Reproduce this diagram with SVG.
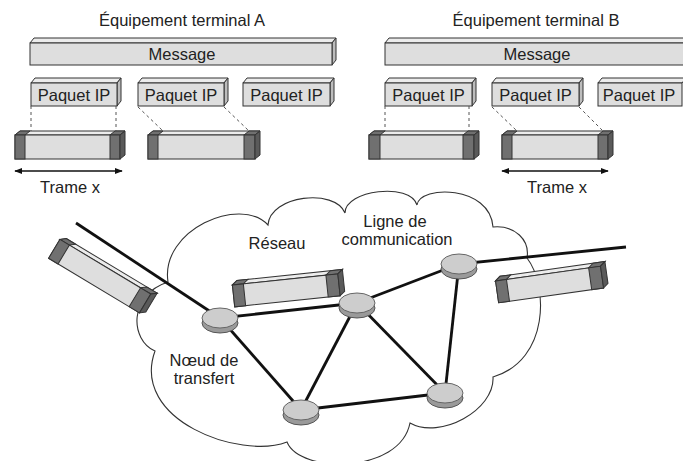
<svg xmlns="http://www.w3.org/2000/svg" width="683" height="461" viewBox="0 0 683 461">
<defs>
<style>
text{font-family:"Liberation Sans",Arial,sans-serif;font-size:16.5px;fill:#222;text-anchor:middle}
.fr{fill:#dedede;stroke:#333;stroke-width:1}
.tp{fill:#ececec;stroke:#333;stroke-width:1}
.sd{fill:#bdbdbd;stroke:#333;stroke-width:1}
.dk{fill:#707070;stroke:#333;stroke-width:1}
.dks{fill:#5a5a5a;stroke:#333;stroke-width:1}
.dash{stroke:#555;stroke-width:1;stroke-dasharray:3,3;fill:none}
.ln{stroke:#111;stroke-width:2.8;fill:none}
.rim{fill:#9a9a9a;stroke:#555;stroke-width:1}
.top{fill:#cdcdcd;stroke:#666;stroke-width:1}
</style>
<marker id="ah" viewBox="0 0 10 10" refX="9" refY="5" markerWidth="8" markerHeight="8" orient="auto-start-reverse" markerUnits="userSpaceOnUse">
<path d="M0,1 L10,5 L0,9 z" fill="#111"/>
</marker>
</defs>
<rect width="683" height="461" fill="#fff"/>

<!-- Terminal A -->
<g id="termA">
<text x="182" y="26">Équipement terminal A</text>
<g id="msgA">
<polygon class="tp" points="30,43 34,38 336,38 332,43"/>
<polygon class="sd" points="332,43 336,38 336,60 332,65"/>
<rect class="fr" x="30" y="43" width="302" height="22"/>
<text x="182" y="60">Message</text>
</g>
<g id="pA1">
<polygon class="tp" points="31,83 35,78 121,78 117,83"/>
<polygon class="sd" points="117,83 121,78 121,101 117,106"/>
<rect class="fr" x="31" y="83" width="86" height="23"/>
<text x="74" y="101">Paquet IP</text>
</g>
<g id="pA2">
<polygon class="tp" points="138,83 142,78 228,78 224,83"/>
<polygon class="sd" points="224,83 228,78 228,101 224,106"/>
<rect class="fr" x="138" y="83" width="86" height="23"/>
<text x="181" y="101">Paquet IP</text>
</g>
<g id="pA3">
<polygon class="tp" points="243,83 247,78 334,78 330,83"/>
<polygon class="sd" points="330,83 334,78 334,101 330,106"/>
<rect class="fr" x="243" y="83" width="87" height="23"/>
<text x="286.5" y="101">Paquet IP</text>
</g>
<g id="fA1">
<polygon class="tp" points="15,135 20,131 125,131 120,135"/>
<rect class="fr" x="15" y="135" width="105" height="24"/>
<polygon class="dk" points="15,135 20,131 30,131 25,135"/>
<rect class="dk" x="15" y="135" width="10" height="24"/>
<polygon class="dk" points="110,135 115,131 125,131 120,135"/>
<rect class="dk" x="110" y="135" width="10" height="24"/>
<polygon class="dks" points="120,135 125,131 125,155 120,159"/>
</g>
<g id="fA2">
<polygon class="tp" points="148,135 153,131 260,131 255,135"/>
<rect class="fr" x="148" y="135" width="107" height="24"/>
<polygon class="dk" points="148,135 153,131 163,131 158,135"/>
<rect class="dk" x="148" y="135" width="10" height="24"/>
<polygon class="dk" points="244,135 249,131 260,131 255,135"/>
<rect class="dk" x="244" y="135" width="11" height="24"/>
<polygon class="dks" points="255,135 260,131 260,155 255,159"/>
</g>
<g id="trameA">
<line x1="15" y1="171" x2="122" y2="171" stroke="#111" stroke-width="1.3" marker-start="url(#ah)" marker-end="url(#ah)"/>
<text x="70" y="193">Trame x</text>
</g>
</g>

<!-- Terminal B -->
<g id="termB">
<text x="536" y="26">Équipement terminal B</text>
<g id="msgB">
<polygon class="tp" points="385,43 389,38 690,38 686,43"/>
<rect class="fr" x="385" y="43" width="305" height="22"/>
<text x="537" y="60">Message</text>
</g>
<g id="pB1">
<polygon class="tp" points="385,83 389,78 476,78 472,83"/>
<polygon class="sd" points="472,83 476,78 476,101 472,106"/>
<rect class="fr" x="385" y="83" width="87" height="23"/>
<text x="428.5" y="101">Paquet IP</text>
</g>
<g id="pB2">
<polygon class="tp" points="492,83 496,78 583,78 579,83"/>
<polygon class="sd" points="579,83 583,78 583,101 579,106"/>
<rect class="fr" x="492" y="83" width="87" height="23"/>
<text x="535.5" y="101">Paquet IP</text>
</g>
<g id="pB3">
<polygon class="tp" points="598,83 602,78 686,78 682,83"/>
<rect class="fr" x="598" y="83" width="84" height="23"/>
<text x="639" y="101">Paquet IP</text>
</g>
<g id="fB1">
<polygon class="tp" points="369,135 374,131 479,131 474,135"/>
<rect class="fr" x="369" y="135" width="105" height="24"/>
<polygon class="dk" points="369,135 374,131 385,131 380,135"/>
<rect class="dk" x="369" y="135" width="11" height="24"/>
<polygon class="dk" points="463,135 468,131 479,131 474,135"/>
<rect class="dk" x="463" y="135" width="11" height="24"/>
<polygon class="dks" points="474,135 479,131 479,155 474,159"/>
</g>
<g id="fB2">
<polygon class="tp" points="502,135 507,131 613,131 608,135"/>
<rect class="fr" x="502" y="135" width="106" height="24"/>
<polygon class="dk" points="502,135 507,131 517,131 512,135"/>
<rect class="dk" x="502" y="135" width="10" height="24"/>
<polygon class="dk" points="598,135 603,131 613,131 608,135"/>
<rect class="dk" x="598" y="135" width="10" height="24"/>
<polygon class="dks" points="608,135 613,131 613,155 608,159"/>
</g>
<g id="trameB">
<line x1="502" y1="171" x2="608" y2="171" stroke="#111" stroke-width="1.3" marker-start="url(#ah)" marker-end="url(#ah)"/>
<text x="557" y="193">Trame x</text>
</g>
</g>

<g id="dashes">
<line class="dash" x1="31" y1="106" x2="31" y2="131"/>
<line class="dash" x1="116" y1="106" x2="116" y2="131"/>
<line class="dash" x1="138" y1="107" x2="163" y2="131"/>
<line class="dash" x1="224" y1="107" x2="249" y2="131"/>
<line class="dash" x1="385" y1="106" x2="385" y2="131"/>
<line class="dash" x1="469" y1="106" x2="469" y2="131"/>
<line class="dash" x1="492" y1="107" x2="517" y2="131"/>
<line class="dash" x1="579" y1="107" x2="603" y2="131"/>
</g>

<!-- Network cloud -->
<g id="cloud">
<path d="M155,351 C130,340 128,295 168,282 C160,230 240,195 268,225 C270,195 335,188 345,213 C345,190 410,182 417,205 C420,185 490,185 493,227 C515,225 530,240 527,258 C548,285 550,360 493,377 C495,410 440,440 410,423 C400,474 300,474 287,442 C240,460 130,420 155,351 Z" fill="#fff" stroke="#333" stroke-width="1.1"/>
</g>

<g id="connectors">
<line class="ln" x1="76" y1="223" x2="220" y2="318"/>
<line class="ln" x1="220" y1="318" x2="357" y2="303"/>
<line class="ln" x1="220" y1="318" x2="301" y2="410"/>
<line class="ln" x1="357" y1="303" x2="301" y2="410"/>
<line class="ln" x1="357" y1="303" x2="459" y2="264"/>
<line class="ln" x1="357" y1="303" x2="445" y2="393"/>
<line class="ln" x1="459" y1="264" x2="445" y2="393"/>
<line class="ln" x1="301" y1="410" x2="445" y2="393"/>
<line class="ln" x1="459" y1="264" x2="626" y2="247"/>
</g>

<g id="frameL" transform="translate(62,236) rotate(31)">
<polygon class="tp" points="0,4 5,0 111,0 106,4"/>
<rect class="fr" x="0" y="4" width="106" height="22"/>
<polygon class="dk" points="0,4 5,0 16,0 11,4"/>
<rect class="dk" x="0" y="4" width="11" height="22"/>
<polygon class="dk" points="94,4 99,0 111,0 106,4"/>
<rect class="dk" x="94" y="4" width="12" height="22"/>
<polygon class="dks" points="106,4 111,0 111,22 106,26"/>
</g>
<g id="frameM" transform="translate(232,281) rotate(-6)">
<polygon class="tp" points="0,4 5,0 111,0 106,4"/>
<rect class="fr" x="0" y="4" width="106" height="22"/>
<polygon class="dk" points="0,4 5,0 16,0 11,4"/>
<rect class="dk" x="0" y="4" width="11" height="22"/>
<polygon class="dk" points="94,4 99,0 111,0 106,4"/>
<rect class="dk" x="94" y="4" width="12" height="22"/>
<polygon class="dks" points="106,4 111,0 111,22 106,26"/>
</g>
<g id="frameR" transform="translate(495,277) rotate(-8)">
<polygon class="tp" points="0,4 5,0 111,0 106,4"/>
<rect class="fr" x="0" y="4" width="106" height="22"/>
<polygon class="dk" points="0,4 5,0 16,0 11,4"/>
<rect class="dk" x="0" y="4" width="11" height="22"/>
<polygon class="dk" points="94,4 99,0 111,0 106,4"/>
<rect class="dk" x="94" y="4" width="12" height="22"/>
<polygon class="dks" points="106,4 111,0 111,22 106,26"/>
</g>

<g id="node1"><ellipse class="rim" cx="220" cy="323" rx="18" ry="10"/><ellipse class="top" cx="220" cy="318" rx="18" ry="10"/></g>
<g id="node2"><ellipse class="rim" cx="357" cy="308" rx="18" ry="10"/><ellipse class="top" cx="357" cy="303" rx="18" ry="10"/></g>
<g id="node3"><ellipse class="rim" cx="459" cy="269" rx="18" ry="10"/><ellipse class="top" cx="459" cy="264" rx="18" ry="10"/></g>
<g id="node4"><ellipse class="rim" cx="445" cy="398" rx="18" ry="10"/><ellipse class="top" cx="445" cy="393" rx="18" ry="10"/></g>
<g id="node5"><ellipse class="rim" cx="301" cy="415" rx="18" ry="10"/><ellipse class="top" cx="301" cy="410" rx="18" ry="10"/></g>

<g id="labels">
<text x="277" y="249">Réseau</text>
<text x="395" y="227">Ligne de</text>
<text x="397" y="245">communication</text>
<text x="204" y="366">Nœud de</text>
<text x="204" y="384">transfert</text>
</g>
</svg>
